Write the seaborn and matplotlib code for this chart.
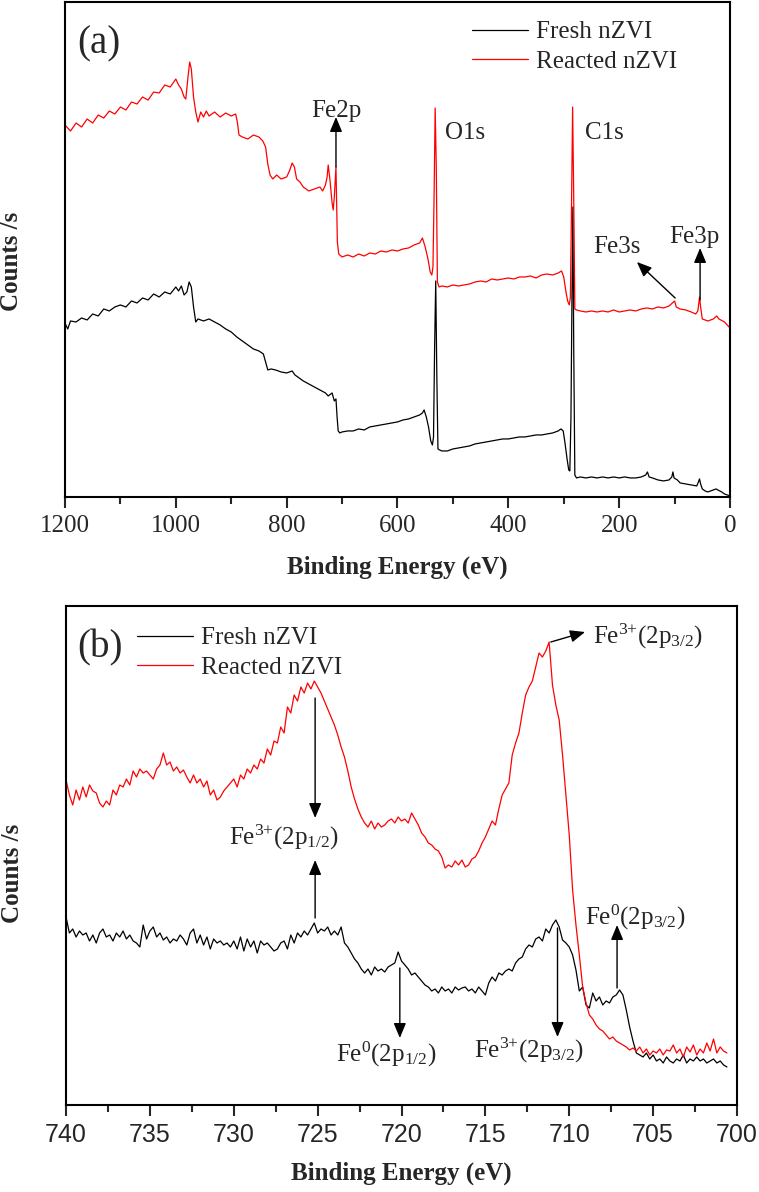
import numpy as np
import pandas as pd
import seaborn as sns
import matplotlib.pyplot as plt
from matplotlib.ticker import MultipleLocator

# (a) survey spectra: binding energy (eV) and counts (arb. units)
e_a_reacted = [1200, 1190, 1180, 1170, 1160, 1150, 1140, 1130, 1120, 1110, 1100, 1090, 1080, 1070,
               1060, 1050, 1040, 1030, 1020, 1010, 1000, 995, 990, 985, 982, 978, 975, 972, 968,
               964, 960, 955, 950, 945, 940, 930, 920, 910, 900, 892, 889, 886, 880, 870, 860,
               850, 843, 838, 834, 830, 825, 818, 810, 800, 795, 790, 786, 782, 776, 770, 760,
               750, 740, 735, 730, 727, 725, 722, 718, 716, 714, 712, 711, 710, 708.5, 706, 700,
               690, 680, 670, 660, 650, 640, 630, 620, 610, 600, 590, 580, 570, 560, 555, 550,
               545, 541, 538, 536, 534, 532, 530, 528, 525, 520, 510, 500, 490, 480, 470, 460,
               450, 440, 430, 420, 410, 400, 390, 380, 370, 360, 350, 340, 330, 320, 310, 304,
               300, 296, 293, 290, 288, 286, 284, 282, 280, 277, 270, 260, 250, 240, 230, 220,
               210, 200, 190, 180, 170, 160, 150, 140, 130, 120, 110, 104, 100, 97, 90, 80, 70,
               62, 58, 55, 53, 50, 45, 40, 30, 24, 20, 10, 5, 0]
cnt_a_reacted = [372, 366, 374, 370, 378, 374, 382, 379, 386, 383, 390, 387, 395, 393,
                 400, 397, 405, 404, 412, 410, 418, 412, 408, 400, 398, 420, 435, 428, 400,
                 385, 375, 385, 380, 386, 381, 385, 380, 384, 381, 383, 375, 362, 360, 358, 362,
                 360, 356, 350, 333, 322, 318, 322, 318, 320, 326, 334, 330, 318, 315, 310, 306,
                 308, 310, 306, 312, 320, 332, 318, 294, 287, 300, 320, 330, 300, 255, 243, 240,
                 242, 240, 243, 241, 244, 243, 246, 245, 247, 246, 248, 249, 252, 254, 259, 250,
                 238, 225, 222, 230, 300, 389, 330, 215, 210, 211, 210, 212, 211, 212, 213, 215,
                 216, 215, 218, 217, 218, 219, 218, 220, 220, 221, 219, 222, 223, 222, 224, 226,
                 220, 205, 196, 192, 200, 290, 390, 300, 188, 187, 186, 185, 186, 185, 186, 185,
                 187, 185, 186, 187, 186, 188, 189, 188, 190, 189, 191, 194, 196, 190, 188, 187, 185,
                 183, 186, 200, 190, 178, 177, 176, 178, 181, 178, 175, 172, 169]

e_a_fresh = [1200, 1195, 1190, 1180, 1170, 1160, 1150, 1140, 1130, 1120, 1110, 1100, 1090, 1080,
             1070, 1060, 1050, 1040, 1030, 1020, 1010, 1000, 995, 990, 985, 980, 976, 972, 968,
             964, 960, 950, 940, 930, 920, 910, 900, 890, 880, 870, 860, 850, 842, 838, 834,
             828, 820, 810, 800, 790, 785, 780, 770, 760, 750, 740, 730, 725, 718, 714, 711,
             709, 707, 704, 700, 690, 680, 670, 660, 650, 640, 630, 620, 610, 600, 590, 580,
             570, 560, 555, 552, 548, 544, 540, 537, 535, 533, 531, 529, 527, 524, 520, 510,
             500, 490, 480, 470, 460, 450, 440, 430, 420, 410, 400, 390, 380, 370, 360, 350,
             340, 330, 320, 310, 305, 301, 298, 294, 291, 289, 287, 285, 283.5, 282, 280, 277,
             270, 260, 250, 240, 230, 220, 210, 200, 190, 180, 170, 160, 152, 149, 146, 140,
             130, 120, 110, 105, 103, 101, 95, 90, 80, 70, 60, 57, 55, 53, 50, 45, 40, 30, 25,
             22, 15, 10, 5, 0]
cnt_a_fresh = [174, 168, 176, 175, 179, 177, 183, 181, 188, 186, 190, 192, 190, 196,
               194, 199, 197, 203, 200, 205, 203, 210, 206, 211, 202, 205, 215, 210, 190,
               175, 178, 176, 178, 175, 172, 168, 165, 160, 156, 152, 148, 146, 143, 135, 127,
               128, 127, 125, 124, 126, 122, 120, 116, 113, 110, 107, 104, 101, 104, 96, 98,
               80, 66, 64, 65, 66, 66, 68, 67, 70, 71, 72, 73, 74, 75, 77, 78,
               80, 82, 84, 87, 80, 70, 56, 52, 60, 150, 216, 120, 48, 47, 46, 46,
               48, 49, 50, 51, 53, 54, 55, 56, 57, 58, 58, 59, 60, 60, 61, 62,
               62, 63, 64, 66, 68, 66, 55, 38, 27, 26, 80, 210, 290, 150, 22, 19,
               20, 19, 20, 19, 20, 19, 20, 19, 20, 19, 19, 20, 22, 25, 20, 19,
               17, 16, 17, 20, 25, 19, 17, 14, 13, 12, 11, 15, 18, 13, 8, 6, 5, 7, 8,
               7, 5, 3, 2, 1]

# (b) Fe2p region
e_b = [740.0, 739.8, 739.6, 739.4, 739.2, 739.0, 738.8, 738.6, 738.4, 738.2,
       738.0, 737.8, 737.6, 737.4, 737.2, 737.0, 736.8, 736.6, 736.4, 736.2,
       736.0, 735.8, 735.6, 735.4, 735.2, 735.0, 734.8, 734.6, 734.4, 734.2,
       734.0, 733.8, 733.6, 733.4, 733.2, 733.0, 732.8, 732.6, 732.4, 732.2,
       732.0, 731.8, 731.6, 731.4, 731.2, 731.0, 730.8, 730.6, 730.4, 730.2,
       730.0, 729.8, 729.6, 729.4, 729.2, 729.0, 728.8, 728.6, 728.4, 728.2,
       728.0, 727.8, 727.6, 727.4, 727.2, 727.0, 726.8, 726.6, 726.4, 726.2,
       726.0, 725.8, 725.6, 725.4, 725.2, 725.0, 724.8, 724.6, 724.4, 724.2,
       724.0, 723.8, 723.6, 723.4, 723.2, 723.0, 722.8, 722.6, 722.4, 722.2,
       722.0, 721.8, 721.6, 721.4, 721.2, 721.0, 720.8, 720.6, 720.4, 720.2,
       720.0, 719.8, 719.6, 719.4, 719.2, 719.0, 718.8, 718.6, 718.4, 718.2,
       718.0, 717.8, 717.6, 717.4, 717.2, 717.0, 716.8, 716.6, 716.4, 716.2,
       716.0, 715.8, 715.6, 715.4, 715.2, 715.0, 714.8, 714.6, 714.4, 714.2,
       714.0, 713.8, 713.6, 713.4, 713.2, 713.0, 712.8, 712.6, 712.4, 712.2,
       712.0, 711.8, 711.6, 711.4, 711.2, 711.0, 710.8, 710.6, 710.4, 710.2,
       710.0, 709.8, 709.6, 709.4, 709.2, 709.0, 708.8, 708.6, 708.4, 708.2,
       708.0, 707.8, 707.6, 707.4, 707.2, 707.0, 706.8, 706.6, 706.4, 706.2,
       706.0, 705.8, 705.6, 705.4, 705.2, 705.0, 704.8, 704.6, 704.4, 704.2,
       704.0, 703.8, 703.6, 703.4, 703.2, 703.0, 702.8, 702.6, 702.4, 702.2,
       702.0, 701.8, 701.6, 701.4, 701.2, 701.0, 700.8, 700.6]
cnt_b_reacted = [325, 310, 300, 315, 305, 318, 308, 320, 314, 312,
                 302, 298, 304, 300, 315, 310, 320, 318, 326, 320,
                 334, 328, 336, 332, 334, 330, 326, 336, 340, 352,
                 340, 343, 334, 338, 332, 335, 328, 322, 330, 322,
                 326, 318, 324, 310, 315, 305, 308, 314, 318, 322,
                 326, 318, 330, 326, 336, 332, 340, 336, 346, 342,
                 356, 350, 364, 362, 378, 372, 398, 392, 410, 404,
                 418, 412, 422, 416, 424, 418, 412, 404, 396, 388,
                 380, 370, 358, 348, 334, 318, 306, 296, 288, 282,
                 278, 284, 276, 282, 278, 280, 284, 286, 282, 288,
                 284, 286, 282, 292, 286, 280, 272, 268, 262, 260,
                 256, 254, 248, 237, 240, 238, 244, 240, 245, 238,
                 240, 246, 248, 254, 262, 268, 276, 284, 280, 296,
                 310, 316, 322, 350, 362, 372, 392, 410, 418, 424,
                 438, 452, 448, 454, 463, 420, 400, 385, 350, 310,
                 270, 215, 180, 150, 118, 102, 90, 86, 80, 76,
                 74, 70, 66, 68, 64, 62, 60, 58, 55, 57,
                 54, 58, 52, 56, 50, 54, 52, 56, 50, 55,
                 54, 60, 52, 56, 48, 58, 53, 60, 50, 56,
                 52, 62, 54, 66, 52, 58, 54, 52]
cnt_b_fresh = [188, 172, 176, 168, 174, 170, 172, 164, 170, 162,
               172, 176, 168, 170, 164, 172, 168, 174, 166, 170,
               164, 162, 158, 180, 166, 174, 178, 168, 172, 165,
               168, 162, 166, 164, 170, 166, 160, 172, 176, 162,
               170, 160, 168, 156, 166, 162, 164, 160, 162, 158,
               164, 156, 168, 154, 166, 158, 164, 152, 164, 160,
               162, 158, 154, 156, 162, 164, 156, 170, 162, 172,
               168, 174, 170, 176, 182, 172, 176, 174, 178, 170,
               174, 170, 178, 162, 158, 152, 146, 142, 136, 132,
               136, 130, 138, 134, 136, 133, 138, 140, 142, 153,
               144, 140, 136, 130, 132, 128, 124, 120, 118, 114,
               116, 112, 118, 114, 116, 112, 118, 115, 117, 118,
               114, 116, 112, 118, 114, 110, 122, 128, 124, 132,
               130, 134, 136, 134, 142, 146, 148, 156, 160, 158,
               166, 168, 164, 176, 172, 180, 185, 178, 165, 162,
               158, 150, 135, 114, 118, 100, 97, 112, 104, 108,
               100, 104, 102, 108, 110, 115, 110, 95, 78, 64,
               52, 50, 48, 52, 46, 50, 44, 46, 42, 48,
               44, 42, 46, 44, 50, 42, 46, 44, 48, 44,
               46, 42, 44, 46, 42, 44, 40, 38]

samples = ['Fresh nZVI', 'Reacted nZVI']
palette = {'Fresh nZVI': 'black', 'Reacted nZVI': 'red'}

df_a = pd.concat([
    pd.DataFrame({'E': e_a_fresh, 'counts': cnt_a_fresh, 'sample': samples[0]}),
    pd.DataFrame({'E': e_a_reacted, 'counts': cnt_a_reacted, 'sample': samples[1]}),
])
df_b = pd.concat([
    pd.DataFrame({'E': e_b, 'counts': cnt_b_fresh, 'sample': samples[0]}),
    pd.DataFrame({'E': e_b, 'counts': cnt_b_reacted, 'sample': samples[1]}),
])

sns.set_style('ticks')
plt.rcParams['font.family'] = ['Liberation Serif', 'DejaVu Serif']
plt.rcParams['mathtext.fontset'] = 'custom'
plt.rcParams['mathtext.rm'] = 'Liberation Serif'
plt.rcParams['mathtext.default'] = 'regular'

fig = plt.figure(figsize=(7.59, 11.92), dpi=100)
ax_a = fig.add_axes([0.0856, 0.5831, 0.8762, 0.4152])
ax_b = fig.add_axes([0.0870, 0.0730, 0.8840, 0.4186])

arrow = dict(arrowstyle='-|>,head_length=0.6,head_width=0.25', color='black', lw=1,
             mutation_scale=15, shrinkA=0, shrinkB=0)


def style_axes(ax, major, minor, tickfont):
    for s in ax.spines.values():
        s.set_linewidth(1.5)
        s.set_color('black')
    ax.set_yticks([])
    ax.xaxis.set_major_locator(MultipleLocator(major))
    ax.xaxis.set_minor_locator(MultipleLocator(minor))
    ax.tick_params(axis='x', which='major', direction='out', length=8, width=1.5,
                   labelsize=18, pad=5, top=False)
    ax.tick_params(axis='x', which='minor', direction='out', length=5, width=1.5, top=False)
    for lab in ax.get_xticklabels():
        lab.set_fontfamily(tickfont)
    ax.set_xlabel('Binding Energy (eV)', fontsize=18, fontweight='bold')
    ax.set_ylabel('Counts /s', fontsize=18, fontweight='bold')
    ax.xaxis.label.set_verticalalignment('center')
    ax.yaxis.label.set_verticalalignment('center')


def put_legend(ax, x, y):
    h, l = ax.get_legend_handles_labels()
    ax.legend(h, l, loc='upper left', bbox_to_anchor=(x, y), frameon=False, fontsize=18,
              handlelength=2.25, handletextpad=0.3, labelspacing=0.28, borderpad=0,
              borderaxespad=0)


# ---- panel (a)
sns.lineplot(data=df_a, x='E', y='counts', hue='sample', hue_order=samples, palette=palette,
             estimator=None, sort=False, lw=0.9, ax=ax_a)
ax_a.set_xlim(1200, 0)
ax_a.set_ylim(0, 495)
style_axes(ax_a, 200, 100, 'Liberation Serif')
ax_a.xaxis.set_label_coords(0.5, -0.1414)
ax_a.yaxis.set_label_coords(-0.0797, 0.475)
put_legend(ax_a, 0.612, 0.962)
ax_a.text(0.018, 0.915, '(a)', transform=ax_a.transAxes, fontsize=28, va='center', ha='left')

ax_a.annotate('', xy=(711, 380), xytext=(711, 330), arrowprops=arrow)
ax_a.text(711, 386, 'Fe2p', fontsize=18, ha='center', va='center')
ax_a.text(514, 364, 'O1s', fontsize=18, ha='left', va='center')
ax_a.text(262, 364, 'C1s', fontsize=18, ha='left', va='center')
ax_a.annotate('', xy=(168, 235), xytext=(99, 199), arrowprops=arrow)
ax_a.text(247, 250, 'Fe3s', fontsize=18, ha='left', va='center')
ax_a.annotate('', xy=(54, 249), xytext=(54, 197), arrowprops=arrow)
ax_a.text(65, 260, 'Fe3p', fontsize=18, ha='center', va='center')

# ---- panel (b)
sns.lineplot(data=df_b, x='E', y='counts', hue='sample', hue_order=samples, palette=palette,
             estimator=None, sort=False, lw=0.9, ax=ax_b)
ax_b.set_xlim(740, 700)
ax_b.set_ylim(0, 499)
style_axes(ax_b, 5, 2.5, 'Liberation Sans')
ax_b.xaxis.set_label_coords(0.5, -0.1363)
ax_b.yaxis.set_label_coords(-0.0805, 0.465)
put_legend(ax_b, 0.106, 0.958)
ax_b.text(0.0164, 0.916, '(b)', transform=ax_b.transAxes, fontsize=28, va='center', ha='left')

ax_b.annotate('', xy=(725.15, 287), xytext=(725.15, 407), arrowprops=arrow)
ax_b.annotate('', xy=(725.15, 245), xytext=(725.15, 187), arrowprops=arrow)
ax_b.text(727.0, 268, r'Fe$^{3{+}}$(2p$_{1/2}$)', fontsize=18, ha='center', va='center')
ax_b.annotate('', xy=(709.06, 473), xytext=(711.1, 463), arrowprops=arrow)
ax_b.text(708.6, 469, r'Fe$^{3{+}}$(2p$_{3/2}$)', fontsize=18, ha='left', va='center')
ax_b.annotate('', xy=(720.1, 67), xytext=(720.1, 137), arrowprops=arrow)
ax_b.text(720.9, 51, r'Fe$^{0}$(2p$_{1/2}$)', fontsize=18, ha='center', va='center')
ax_b.annotate('', xy=(710.7, 68), xytext=(710.7, 177), arrowprops=arrow)
ax_b.text(712.4, 55, r'Fe$^{3{+}}$(2p$_{3/2}$)', fontsize=18, ha='center', va='center')
ax_b.annotate('', xy=(707.15, 180), xytext=(707.15, 117), arrowprops=arrow)
ax_b.text(706.1, 188, r'Fe$^{0}$(2p$_{3/2}$)', fontsize=18, ha='center', va='center')

fig.savefig('out.png', dpi=100)
